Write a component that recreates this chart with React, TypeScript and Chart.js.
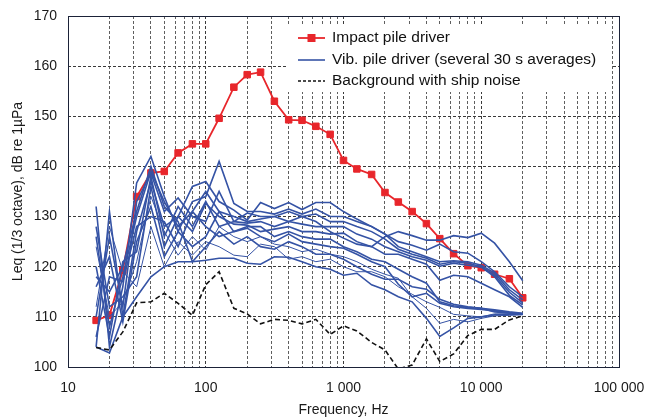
import React, { useEffect, useRef } from 'react';
import { Chart, registerables } from 'chart.js';

Chart.register(...registerables);

// One-third octave band centre frequencies, Hz
const frequencies = [
  16, 20, 25, 31.5, 40, 50, 63, 80, 100, 125, 160, 200, 250, 315, 400, 500,
  630, 800, 1000, 1250, 1600, 2000, 2500, 3150, 4000, 5000, 6300, 8000, 10000,
  12500, 16000, 20000,
];

// Impact pile driver, Leq dB re 1 µPa
const impactPile = [
  109.3, 110.3, 119.3, 134.0, 138.7, 139.0, 142.7, 144.5, 144.5, 149.6, 155.8,
  158.3, 158.8, 153.0, 149.3, 149.2, 148.0, 146.4, 141.2, 139.5, 138.4, 134.8,
  132.9, 131.0, 128.6, 125.6, 122.6, 120.2, 119.8, 118.5, 117.6, 113.8,
];

// Background with ship noise
const background = [
  103.9, 103.4, 107.0, 112.8, 113.0, 114.7, 112.7, 110.3, 116.4, 119.0, 111.7,
  110.6, 108.6, 109.5, 109.3, 108.6, 109.5, 106.5, 108.2, 107.2, 104.9, 103.4,
  99.6, 100.4, 105.6, 101.1, 102.6, 106.3, 107.5, 107.5, 109.4, 110.2,
];

// Vibratory pile driver, several 30 s averages
const vib1 = [126, 108, 118, 130, 139, 133, 128, 131, 135, 131, 130, 129, 129.5, 130, 131, 130, 129, 127, 125.7, 124.5, 124, 126, 127, 126.2, 125.3, 125.3, 126.2, 125.8, 126.7, 124.7, 121, 117.2];
const vib2 = [104, 131, 110, 127, 137, 128, 130, 136, 137, 133, 131.3, 129.3, 132.8, 131.6, 132.8, 131.4, 132.8, 132.8, 131, 129.5, 128, 126.5, 125, 124.3, 123.3, 124.5, 123, 122.7, 121, 119, 116, 114.0];
const vib3 = [132, 104, 116, 136.7, 142, 134, 127, 133, 134, 141, 132.6, 131, 131, 130.5, 131.5, 130.5, 131.5, 130, 130, 129, 128, 126.5, 124, 123, 122, 121, 121.2, 121, 120.3, 118.7, 115.4, 113.4];
const vib4 = [110, 126, 112, 133, 138.7, 131, 133.7, 130, 129, 135, 129, 130.7, 130, 130, 129, 130, 130.5, 129, 129, 128, 127, 125.5, 123.5, 122.5, 121.7, 120.5, 121, 120.7, 120, 118.3, 114.9, 112.8];
const vib5 = [120, 106, 121, 123, 138, 126, 132, 128, 133, 128, 129, 128.7, 129, 128, 129, 128.5, 128, 128, 128, 126.5, 125.5, 124, 123, 122, 121.3, 120.1, 120.7, 120.3, 119.9, 118, 114.3, 112.4];
const vib6 = [128, 112, 114, 118, 136, 124, 130, 127, 132.6, 130, 128.5, 128.3, 127, 127.5, 128, 127, 127, 126.5, 126.7, 125, 124, 122.5, 122.5, 121.5, 120.5, 117.3, 118.3, 118, 116.7, 115.4, 114, 111.9];
const vib7 = [116, 122, 109, 125, 132, 122, 127, 124, 126, 131, 127, 128, 128, 126, 127, 126, 125.5, 125.5, 124, 123, 121.5, 121, 119.5, 118, 116.7, 113, 112.2, 111.9, 111.7, 111.4, 111, 110.7];
const vib8 = [106, 118, 117, 128, 130, 129, 124, 131, 128, 126, 127, 127.7, 126, 125, 126.5, 125, 124.5, 124, 123.7, 122.5, 121, 120, 116.5, 114, 114.7, 112.7, 112, 111.7, 111.5, 111.2, 110.8, 110.6];
const vib9 = [124, 110, 113, 121, 134, 127, 122.3, 126, 123.3, 128, 126, 125, 126, 124.5, 124, 123, 123.5, 122.5, 122, 121, 119.5, 118.5, 117.7, 114, 111.7, 108.7, 109.5, 109, 109.7, 110.2, 110.3, 110.4];
const vib10 = [112, 128, 119, 116, 128, 120, 125, 122.3, 125, 124, 122.3, 122, 124.5, 124, 121.5, 122, 121, 121.5, 120, 119, 119, 118, 116, 114.5, 113, 111.9, 110.5, 110.2, 110, 110.6, 110.6, 110.5];
const vib11 = [104, 102.8, 110, 114, 118, 120, 121, 121, 121.3, 121.7, 121.7, 120.7, 120.5, 122, 121.9, 121, 120, 119.5, 118.3, 118.7, 116.4, 115.4, 114, 113, 109.7, 106.1, 107.8, 109.7, 110, 110.4, 110.5, 110.6];
const vib12 = [118, 115, 120, 131, 140, 132, 129, 121, 124, 127, 124.5, 126, 124, 123.5, 125, 124, 122.5, 122.5, 121.5, 120, 118.5, 117.5, 117.5, 116, 115.5, 113.5, 112.5, 112, 111.7, 111, 110.8, 110.6];

const vibRuns = [vib1, vib2, vib3, vib4, vib5, vib6, vib7, vib8, vib9, vib10, vib11, vib12];
const thinRuns = [vib9, vib10];

// Axis ranges and tick labels
const xMin = 10;
const xMax = 100000;
const decades = [10, 100, 1000, 10000, 100000];
const yMin = 100;
const yMax = 170;
const yStep = 10;

const legendLabels = [
  'Impact pile driver',
  'Vib. pile driver (several 30 s averages)',
  'Background with ship noise',
];

const RED = '#E8262B';
const BLUE = '#3553A5';
const FONT = "'Liberation Sans', Arial, sans-serif";

const toPoints = (values: number[]) => frequencies.map((f, i) => ({ x: f, y: values[i] }));

// grid lines at 1..9 x each decade
const xGridValues: number[] = [];
for (let d = xMin; d < xMax; d *= 10) {
  for (let k = 1; k < 10; k++) xGridValues.push(d * k);
}
xGridValues.push(xMax);

const isDecade = (v: number) => decades.some((d) => Math.abs(d - v) < 1e-6);
const formatHz = (v: number) => String(Math.round(v)).replace(/\B(?=(\d{3})+(?!\d))/g, ' ');

const frameAndLegend = {
  id: 'frameAndLegend',
  afterDatasetsDraw(chart: any) {
    const { ctx, chartArea } = chart;
    const bx = chartArea.left + 219;
    const by = chartArea.top + 9;
    ctx.save();
    ctx.fillStyle = '#ffffff';
    ctx.fillRect(bx, by, 324, 67);

    const sx1 = bx + 11;
    const sx2 = bx + 38;
    const tx = bx + 45;
    const rows = [by + 13, by + 35, by + 56];

    ctx.lineWidth = 1.8;
    ctx.setLineDash([]);
    ctx.strokeStyle = RED;
    ctx.beginPath();
    ctx.moveTo(sx1, rows[0]);
    ctx.lineTo(sx2, rows[0]);
    ctx.stroke();
    ctx.fillStyle = RED;
    ctx.fillRect((sx1 + sx2) / 2 - 4, rows[0] - 4, 8, 8);

    ctx.lineWidth = 1.6;
    ctx.strokeStyle = BLUE;
    ctx.beginPath();
    ctx.moveTo(sx1, rows[1]);
    ctx.lineTo(sx2, rows[1]);
    ctx.stroke();

    ctx.lineWidth = 1.4;
    ctx.strokeStyle = '#111111';
    ctx.setLineDash([3, 2]);
    ctx.beginPath();
    ctx.moveTo(sx1, rows[2]);
    ctx.lineTo(sx2, rows[2]);
    ctx.stroke();
    ctx.setLineDash([]);

    ctx.fillStyle = '#111111';
    ctx.font = `15.5px ${FONT}`;
    ctx.textBaseline = 'middle';
    ctx.textAlign = 'left';
    legendLabels.forEach((t, i) => ctx.fillText(t, tx, rows[i]));
    ctx.restore();
  },
  afterDraw(chart: any) {
    const { ctx, chartArea } = chart;
    ctx.save();
    ctx.setLineDash([]);
    ctx.strokeStyle = '#1b2238';
    ctx.lineWidth = 1;
    ctx.strokeRect(
      Math.round(chartArea.left) + 0.5,
      Math.round(chartArea.top) + 0.5,
      Math.round(chartArea.right - chartArea.left),
      Math.round(chartArea.bottom - chartArea.top),
    );
    ctx.restore();
  },
};

export default function App() {
  const canvasRef = useRef<HTMLCanvasElement | null>(null);

  useEffect(() => {
    document.body.style.margin = '0';
    const canvas = canvasRef.current;
    if (!canvas) return;

    const datasets: any[] = [
      {
        label: 'Background with ship noise',
        data: toPoints(background),
        borderColor: '#111111',
        borderWidth: 1.6,
        borderDash: [5, 3],
        pointRadius: 0,
        order: 0,
      },
      ...vibRuns.map((run, i) => ({
        label: `Vib. pile driver ${i + 1}`,
        data: toPoints(run),
        borderColor: BLUE,
        borderWidth: thinRuns.includes(run) ? 1 : 1.6,
        pointRadius: 0,
        order: 1,
      })),
      {
        label: 'Impact pile driver',
        data: toPoints(impactPile),
        borderColor: RED,
        borderWidth: 1.8,
        pointStyle: 'rect',
        pointRadius: 4.6,
        pointBackgroundColor: RED,
        pointBorderColor: RED,
        pointBorderWidth: 1,
        order: 2,
      },
    ];

    const chart = new Chart(canvas, {
      type: 'line',
      data: { datasets },
      options: {
        animation: false,
        responsive: false,
        devicePixelRatio: 1,
        layout: { padding: { top: 16, right: 28, left: 0, bottom: 0 } },
        plugins: { legend: { display: false }, tooltip: { enabled: false } },
        elements: { line: { tension: 0 } },
        scales: {
          x: {
            type: 'logarithmic',
            min: xMin,
            max: xMax,
            afterBuildTicks: (scale: any) => {
              scale.ticks = xGridValues.map((v) => ({ value: v, major: isDecade(v) }));
            },
            afterFit: (scale: any) => {
              scale.height = 52;
              scale.paddingLeft = 0;
              scale.paddingRight = 0;
            },
            ticks: {
              autoSkip: false,
              maxRotation: 0,
              minRotation: 0,
              padding: 13,
              color: '#1a1a1a',
              font: { family: FONT, size: 14 },
              callback: (v: any) => (isDecade(Number(v)) ? formatHz(Number(v)) : ''),
            },
            grid: {
              drawTicks: false,
              lineWidth: 1,
              color: (ctx: any) => (ctx.tick && isDecade(ctx.tick.value) ? '#3a3a3a' : '#5f5f5f'),
            },
            border: { display: false, dash: [3, 2] },
            title: {
              display: true,
              text: 'Frequency, Hz',
              color: '#1a1a1a',
              font: { family: FONT, size: 14 },
              padding: { top: 0, bottom: 0 },
            },
          },
          y: {
            type: 'linear',
            min: yMin,
            max: yMax,
            afterFit: (scale: any) => {
              scale.width = 68;
              scale.paddingTop = 0;
              scale.paddingBottom = 0;
            },
            ticks: {
              stepSize: yStep,
              padding: 11,
              color: '#1a1a1a',
              font: { family: FONT, size: 14 },
            },
            grid: { drawTicks: false, lineWidth: 1, color: '#3a3a3a' },
            border: { display: false, dash: [3, 2] },
            title: {
              display: true,
              text: 'Leq (1/3 octave), dB re 1µPa',
              color: '#1a1a1a',
              font: { family: FONT, size: 14 },
              padding: { top: 10, bottom: 0 },
            },
          },
        },
      },
      plugins: [frameAndLegend],
    });

    return () => chart.destroy();
  }, []);

  return (
    <div style={{ width: 647, height: 419 }}>
      <canvas ref={canvasRef} width={647} height={419} style={{ display: 'block' }} />
    </div>
  );
}
